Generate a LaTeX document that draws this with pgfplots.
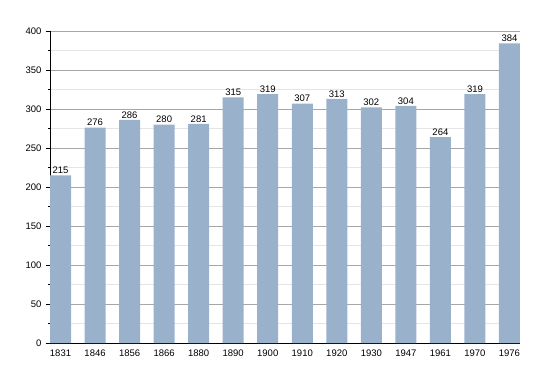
\documentclass[border=0pt]{standalone}
\usepackage{pgfplots}
\pgfplotsset{compat=1.18}
\usepackage{fontspec}
\setmainfont{Liberation Sans}
\definecolor{barc}{HTML}{9AB1CC}
\begin{document}
\begin{tikzpicture}[x=1pt,y=1pt]
\useasboundingbox (-50pt,-30pt) rectangle (500pt,343pt);
\begin{axis}[
  at={(0,0)}, anchor=south west,
  scale only axis, width=470pt, height=312pt,
  xmin=-0.305, xmax=13.305, ymin=0, ymax=400,
  axis x line*=bottom, axis y line*=left,
  axis line style={black, line width=0.8pt},
  xtick={0,...,13},
  xticklabels={1831,1846,1856,1866,1880,1890,1900,1910,1920,1930,1947,1961,1970,1976},
  x tick style={draw=none},
  ytick={0,50,...,400},
  minor ytick={25,75,...,375},
  ymajorgrids, yminorgrids,
  major grid style={color=black!35, line width=0.6pt},
  minor grid style={color=black!10, line width=0.6pt},
  y tick style={black, line width=0.6pt},
  major tick length=4pt, minor tick length=2pt,
  tick align=outside,
  ticklabel style={font=\fontsize{9.5}{11}\selectfont},
  /pgf/number format/assume math mode=true,
  yticklabel style={xshift=-1pt},
  xticklabel style={yshift=1pt},
  nodes near coords,
  nodes near coords style={font=\fontsize{9.5}{11}\selectfont, inner sep=1.5pt},
  clip=false,
]
\addplot[ybar, bar width=21pt, fill=barc, draw=none, bar shift=0pt] coordinates {
(0,215) (1,276) (2,286) (3,280) (4,281) (5,315) (6,319) (7,307) (8,313) (9,302) (10,304) (11,264) (12,319) (13,384)
};
\end{axis}
\end{tikzpicture}
\end{document}
